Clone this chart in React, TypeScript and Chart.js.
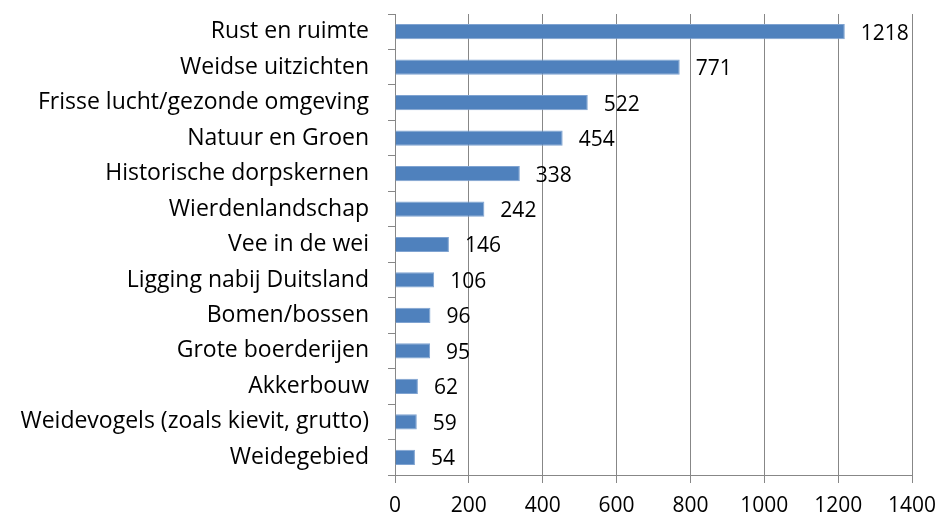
import React, { useEffect, useRef } from "react";
import { Chart, registerables } from "chart.js";

Chart.register(...registerables);

const categories = [
  "Rust en ruimte",
  "Weidse uitzichten",
  "Frisse lucht/gezonde omgeving",
  "Natuur en Groen",
  "Historische dorpskernen",
  "Wierdenlandschap",
  "Vee in de wei",
  "Ligging nabij Duitsland",
  "Bomen/bossen",
  "Grote boerderijen",
  "Akkerbouw",
  "Weidevogels (zoals kievit, grutto)",
  "Weidegebied",
];
const values = [1218, 771, 522, 454, 338, 242, 146, 106, 96, 95, 62, 59, 54];
const xMin = 0;
const xMax = 1400;
const xStep = 200;

const FONT = "'Open Sans', sans-serif";
const FS_CAT = 23;
const FS_NUM = 21;

const dataLabels = {
  id: "dataLabels",
  afterDatasetsDraw(chart: any) {
    const ctx = chart.ctx;
    const meta = chart.getDatasetMeta(0);
    ctx.save();
    ctx.font = `${FS_NUM}px ${FONT}`;
    ctx.fillStyle = "#000";
    ctx.textAlign = "left";
    ctx.textBaseline = "middle";
    meta.data.forEach((bar: any, i: number) => {
      ctx.fillText(String(values[i]), bar.x + 16, bar.y + 2);
    });
    ctx.restore();
  },
};

export default function App() {
  const ref = useRef<HTMLCanvasElement>(null);
  useEffect(() => {
    if (!ref.current) return;
    const chart = new Chart(ref.current, {
      type: "bar",
      data: {
        labels: categories,
        datasets: [
          {
            data: values,
            backgroundColor: "#4F81BD",
            borderColor: "#7FA3D1",
            borderWidth: 1,
            barPercentage: 0.43,
            categoryPercentage: 1,
          },
        ],
      },
      options: {
        indexAxis: "y",
        animation: false,
        responsive: false,
        maintainAspectRatio: false,
        layout: { padding: { top: 14, right: 29, left: 0, bottom: 0 } },
        plugins: {
          legend: { display: false },
          tooltip: { enabled: false },
        },
        scales: {
          x: {
            min: xMin,
            max: xMax,
            ticks: {
              stepSize: xStep,
              color: "#000",
              font: { family: FONT, size: FS_NUM },
              padding: 10,
              callback: (v: any) => String(v),
            },
            grid: {
              color: "#878787",
              lineWidth: 1,
              tickLength: 8,
              drawTicks: true,
            },
            border: { color: "#878787", width: 1 },
            afterFit(scale: any) {
              scale.height = 46;
              scale.paddingLeft = 0;
              scale.paddingRight = 0;
            },
          },
          y: {
            ticks: {
              color: "#000",
              font: { family: FONT, size: FS_CAT },
              padding: 19,
            },
            grid: {
              offset: true,
              drawOnChartArea: false,
              color: "#878787",
              tickLength: 7,
            },
            border: { color: "#878787", width: 1 },
            afterFit(scale: any) {
              scale.width = 395;
              scale.paddingTop = 0;
              scale.paddingBottom = 0;
            },
          },
        },
      },
      plugins: [dataLabels],
    });
    return () => chart.destroy();
  }, []);
  return (
    <div style={{ position: "fixed", left: 0, top: 0, width: 941, height: 521, background: "#fff" }}>
      <canvas ref={ref} width={941} height={521} style={{ width: 941, height: 521 }} />
    </div>
  );
}
